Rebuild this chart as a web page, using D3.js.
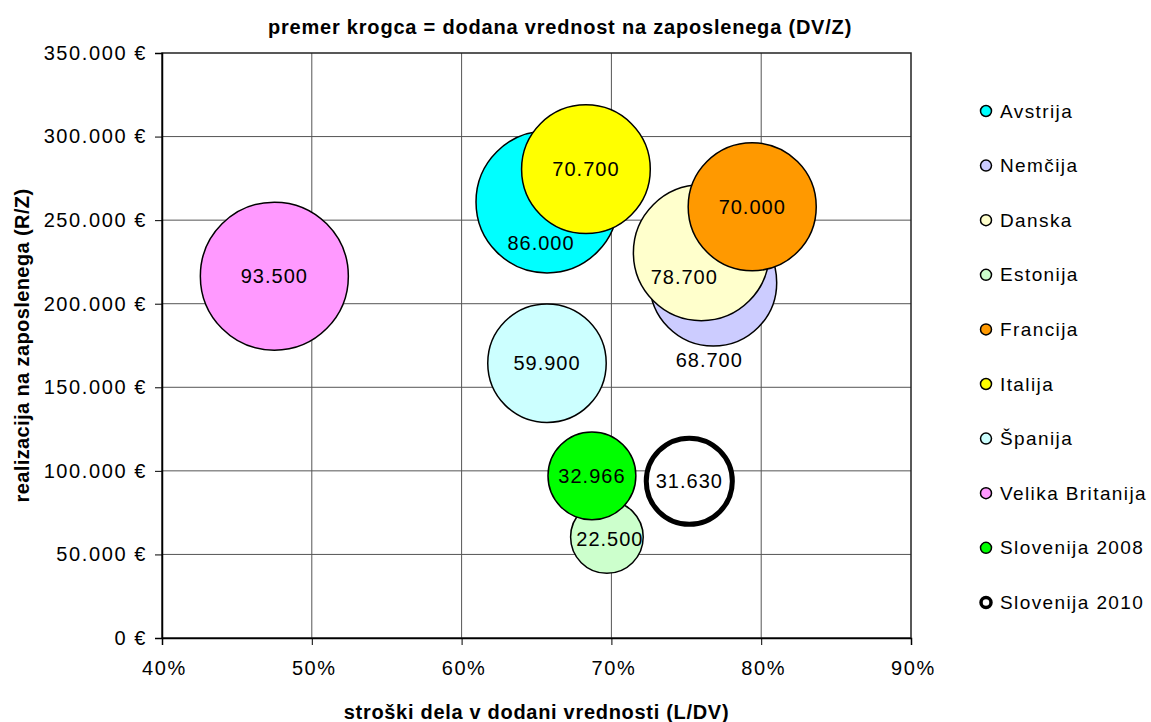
<!DOCTYPE html>
<html>
  <head>
    <meta charset='utf-8'>
    <title>Bubble chart DV/Z</title>
    <script src='https://d3js.org/d3.v7.min.js'></script>
    <style>
      body { margin: 0; background: #fff; }
      text { font-family: 'Liberation Sans', Arial, sans-serif; fill: #000; }
    </style>
  </head>

  <body>
    <div id='grafico'></div>
    <script>
    // Podatki
    const drzave = ['Avstrija', 'Nemčija', 'Danska', 'Estonija', 'Francija', 'Italija',
                    'Španija', 'Velika Britanija', 'Slovenija 2008', 'Slovenija 2010'];
    const strosekDela = [0.657, 0.768, 0.760, 0.697, 0.794, 0.683, 0.657, 0.475, 0.687, 0.752];
    const realizacija = [260900, 212600, 230500, 60400, 258000, 280500, 164400, 216500, 97000, 93800];
    const dodanaVrednost = [86000, 68700, 78700, 22500, 70000, 70700, 59900, 93500, 32966, 31630];
    const barve = ['#00FFFF', '#CCCCFF', '#FFFFCC', '#CCFFCC', '#FF9900', '#FFFF00',
                   '#CCFFFF', '#FF99FF', '#00FF00', '#FFFFFF'];
    const xTicks = [0.4, 0.5, 0.6, 0.7, 0.8, 0.9];
    const yTicks = [0, 50000, 100000, 150000, 200000, 250000, 300000, 350000];

    // ročno premaknjene oznake (dx, dy glede na središče)
    const zamikOznak = { 'Avstrija': [-6, 41], 'Nemčija': [-4, 77], 'Danska': [-17, 24], 'Estonija': [3, 2] };

    const width = 1151, height = 722;
    const plot = { left: 162, right: 911, top: 53, bottom: 638 };

    const svg = d3.select('#grafico').append('svg')
                  .attr('width', width)
                  .attr('height', height);

    const loc = d3.formatLocale({ decimal: ',', thousands: '.', grouping: [3], currency: ['', ' €'] });
    const fmtNum = loc.format(',.0f');

    // Skale
    const xScale = d3.scaleLinear().domain([0.4, 0.9]).range([plot.left, plot.right]);
    const yScale = d3.scaleLinear().domain([0, 350000]).range([plot.bottom, plot.top]);
    const rScale = d3.scaleSqrt().domain([0, 93500]).range([0, 74]);

    // Mreža
    svg.append('g').selectAll('line.gx')
      .data(xTicks.slice(1, -1)).enter().append('line')
      .attr('x1', d => xScale(d)).attr('x2', d => xScale(d))
      .attr('y1', plot.top).attr('y2', plot.bottom)
      .attr('stroke', '#555').attr('stroke-width', 1);
    svg.append('g').selectAll('line.gy')
      .data(yTicks.slice(1, -1)).enter().append('line')
      .attr('x1', plot.left).attr('x2', plot.right)
      .attr('y1', d => yScale(d)).attr('y2', d => yScale(d))
      .attr('stroke', '#555').attr('stroke-width', 1);

    svg.append('rect')
      .attr('x', plot.left).attr('y', plot.top)
      .attr('width', plot.right - plot.left).attr('height', plot.bottom - plot.top)
      .attr('fill', 'none').attr('stroke', '#222').attr('stroke-width', 1.5);

    // Osi
    const xAxis = d3.axisBottom(xScale).tickValues(xTicks).tickFormat(d3.format('.0%'))
                    .tickSize(7).tickPadding(16);
    const gx = svg.append('g').attr('transform', 'translate(0,' + plot.bottom + ')').call(xAxis);

    const yAxis = d3.axisLeft(yScale).tickValues(yTicks).tickFormat(d => fmtNum(d) + ' €')
                    .tickSize(7).tickPadding(8);
    const gy = svg.append('g').attr('transform', 'translate(' + plot.left + ',0)').call(yAxis);

    [gx, gy].forEach(g => {
      g.select('.domain').attr('stroke', '#000').attr('stroke-width', 1.5);
      g.selectAll('.tick line').attr('stroke', '#000');
      g.selectAll('.tick text')
        .style('font-family', "'Liberation Sans', Arial, sans-serif")
        .style('font-size', '20px').style('letter-spacing', '1.6px');
    });
    gx.selectAll('.tick text').attr('dx', '0.1em');

    // Krogci
    const data = drzave.map((d, i) => ({
      ime: d, x: strosekDela[i], y: realizacija[i], dv: dodanaVrednost[i], barva: barve[i]
    }));

    svg.append('g').selectAll('circle')
      .data(data).enter().append('circle')
      .attr('cx', d => xScale(d.x))
      .attr('cy', d => yScale(d.y))
      .attr('r', d => rScale(d.dv))
      .attr('fill', d => d.barva)
      .attr('stroke', '#000')
      .attr('stroke-width', d => d.ime === 'Slovenija 2010' ? 5 : 1.5);

    svg.append('g').selectAll('text')
      .data(data).enter().append('text')
      .attr('x', d => xScale(d.x) + (zamikOznak[d.ime] ? zamikOznak[d.ime][0] : 0))
      .attr('y', d => yScale(d.y) + (zamikOznak[d.ime] ? zamikOznak[d.ime][1] : 0))
      .attr('text-anchor', 'middle')
      .attr('dy', '0.35em')
      .style('font-size', '20px').style('letter-spacing', '1px')
      .text(d => fmtNum(d.dv));

    // Naslovi
    svg.append('text')
      .attr('x', 560).attr('y', 34)
      .attr('text-anchor', 'middle')
      .style('font-size', '20px').style('font-weight', 'bold').style('letter-spacing', '0.8px')
      .text('premer krogca = dodana vrednost na zaposlenega (DV/Z)');

    svg.append('text')
      .attr('x', (plot.left + plot.right) / 2).attr('y', 719)
      .attr('text-anchor', 'middle')
      .style('font-size', '20px').style('font-weight', 'bold').style('letter-spacing', '0.7px')
      .text('stroški dela v dodani vrednosti (L/DV)');

    svg.append('text')
      .attr('transform', 'translate(29,' + (plot.top + plot.bottom) / 2 + ') rotate(-90)')
      .attr('text-anchor', 'middle')
      .style('font-size', '20px').style('font-weight', 'bold').style('letter-spacing', '0.4px')
      .text('realizacija na zaposlenega (R/Z)');

    // Legenda
    const legenda = svg.append('g').selectAll('g')
      .data(data).enter().append('g')
      .attr('transform', (d, i) => 'translate(986,' + (111 + i * 54.6) + ')');
    legenda.append('circle')
      .attr('r', d => d.ime === 'Slovenija 2010' ? 5 : 5.5)
      .attr('fill', d => d.barva)
      .attr('stroke', '#000')
      .attr('stroke-width', d => d.ime === 'Slovenija 2010' ? 3.5 : 1.5);
    legenda.append('text')
      .attr('x', 14).attr('dy', '0.35em')
      .style('font-size', '19px').style('letter-spacing', '1.4px')
      .text(d => d.ime);
    </script>
  </body>
</html>
